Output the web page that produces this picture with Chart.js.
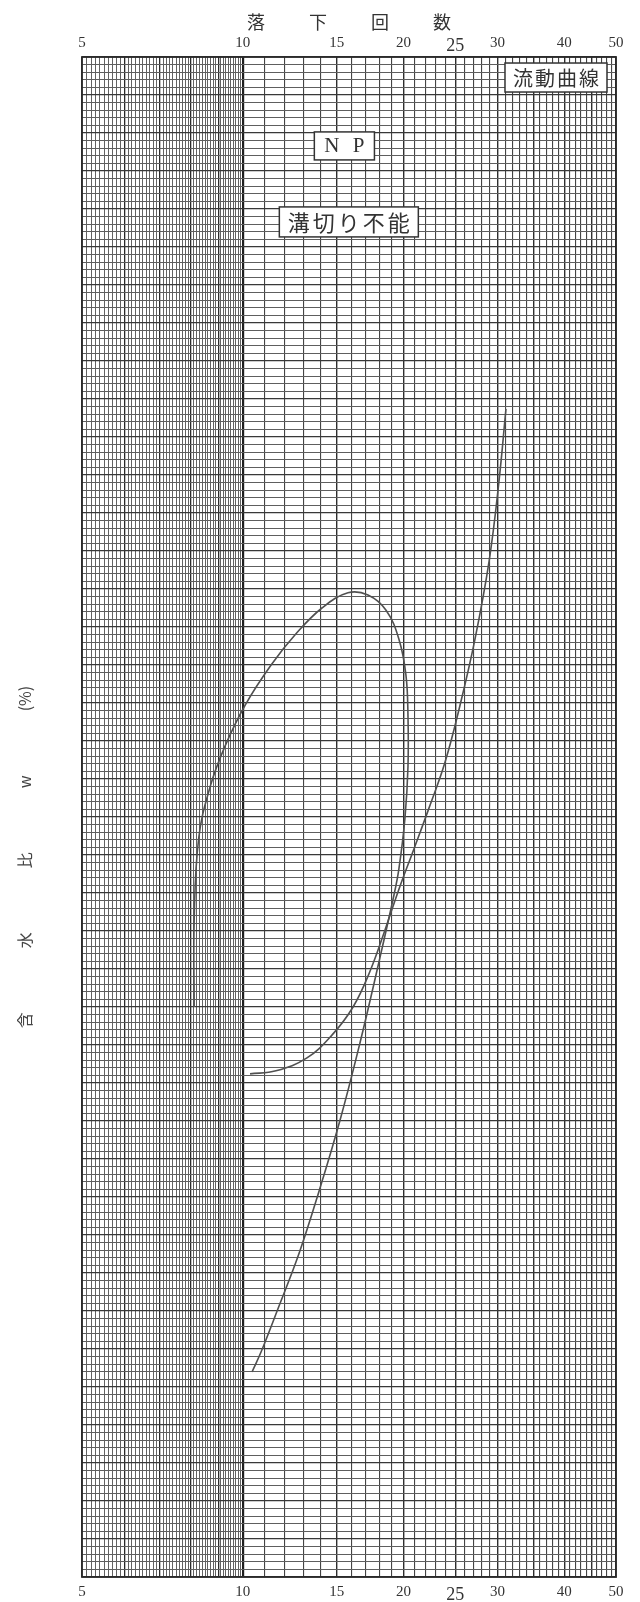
<!DOCTYPE html>
<html>
<head>
<meta charset="utf-8">
<script src="https://cdn.jsdelivr.net/npm/chart.js@4/dist/chart.umd.min.js"></script>
<style>
  html, body { margin: 0; padding: 0; background: #ffffff; }
  #wrap { width: 640px; height: 1602px; position: relative; }
</style>
</head>
<body>
<div id="wrap"><canvas id="c"></canvas></div>
<script>
// ---- data ----
const xTickLabels = [5, 10, 15, 20, 25, 30, 40, 50];
const xTitle = '落　　  下　　  回　　  数';
const yTitle = '含　　　　水　　　　比　　　　w　　　　(%)　　　　　';

// curve 1: loop + steep descending branch (drawn in this order)
const curve1X = [8.11, 8.11, 8.27, 8.68, 9.26, 10.10, 11.30, 12.58, 14.07, 15.74, 17.16, 18.55, 19.61, 20.21, 20.39, 20.39, 20.13, 19.61, 19.19, 17.92, 16.58, 15.21, 13.90, 12.75, 11.64, 10.82, 10.41];
const curve1Y = [75.0, 86.4, 97.2, 103.9, 109.3, 114.7, 120.0, 124.1, 127.5, 129.5, 129.2, 127.2, 123.4, 118.7, 113.3, 106.6, 99.9, 93.2, 89.7, 80.4, 70.3, 60.1, 50.8, 42.6, 35.3, 29.6, 27.0];

// curve 2: rising flow curve
const curve2X = [10.32, 11.54, 13.19, 14.69, 16.09, 17.31, 18.46, 19.61, 20.92, 22.33, 23.92, 25.52, 27.22, 28.92, 30.19, 31.11];
const curve2Y = [66.2, 66.6, 68.3, 71.3, 75.0, 79.7, 85.1, 90.5, 95.8, 101.2, 107.2, 114.7, 123.4, 133.6, 144.2, 153.7];

// boxed notes (text, and anchor in data units)
const noteTexts = ['流動曲線', 'N P', '溝切り不能'];
const noteX = [38.6, 15.5, 15.8];
const noteY = [197.3, 188.3, 178.3];

// ---- grid helpers ----
function xGridValues() {
  const v = [];
  for (let i = 50; i < 100; i++) v.push(i / 10);
  for (let i = 10; i <= 50; i++) v.push(i);
  return v;
}
function yGridValues() {
  const v = [];
  for (let i = 0; i <= 200; i++) v.push(i);
  return v;
}
const toPts = (xs, ys) => xs.map((x, i) => ({ x: x, y: ys[i] }));

const notesPlugin = {
  id: 'notes',
  afterDraw(chart) {
    const ctx = chart.ctx;
    const xs = chart.scales.x, ys = chart.scales.y;
    const styles = [
      { font: '20px "Noto Sans CJK JP"', spacing: 2, padX: 7, h: 29 },
      { font: '21px "Liberation Serif"', spacing: 4, padX: 8, h: 28 },
      { font: '22px "Noto Sans CJK JP"', spacing: 3, padX: 7, h: 30 }
    ];
    noteTexts.forEach((t, i) => {
      const cx = xs.getPixelForValue(noteX[i]);
      const cy = ys.getPixelForValue(noteY[i]);
      const st = styles[i];
      ctx.save();
      ctx.font = st.font;
      ctx.letterSpacing = st.spacing + 'px';
      const tw = ctx.measureText(t).width;
      const w = tw + st.padX * 2;
      ctx.fillStyle = '#ffffff';
      ctx.fillRect(cx - w / 2, cy - st.h / 2, w, st.h);
      ctx.strokeStyle = '#333333';
      ctx.lineWidth = 1.5;
      ctx.strokeRect(cx - w / 2, cy - st.h / 2, w, st.h);
      ctx.fillStyle = '#333333';
      ctx.textAlign = 'left';
      ctx.textBaseline = 'middle';
      ctx.fillText(t, cx - tw / 2 + st.spacing / 2, cy + 1);
      ctx.restore();
    });
    // frame
    const a = chart.chartArea;
    ctx.save();
    ctx.strokeStyle = '#2a2a2a';
    ctx.lineWidth = 1.8;
    ctx.strokeRect(a.left, a.top, a.right - a.left, a.bottom - a.top);
    ctx.restore();
  }
};

function isInt(v) { return Math.abs(v - Math.round(v)) < 1e-6; }
function xGridColor(ctx) {
  const v = ctx.tick ? ctx.tick.value : 0;
  if (v === 10) return '#1e1e1e';
  if (v < 10) return isInt(v) ? '#2a2a2a' : '#5a5a5a';
  if (v % 5 === 0) return '#2e2e2e';
  return '#444444';
}
function xGridWidth(ctx) {
  const v = ctx.tick ? ctx.tick.value : 0;
  if (v === 10) return 2.2;
  if (v < 10) return isInt(v) ? 1.3 : 0.95;
  if (v % 5 === 0) return 1.4;
  return 1.1;
}
function yGridColor(ctx) {
  const v = ctx.tick ? ctx.tick.value : 0;
  return v % 5 === 0 ? '#383838' : '#5e5e5e';
}
function yGridWidth(ctx) {
  const v = ctx.tick ? ctx.tick.value : 0;
  return v % 5 === 0 ? 1.2 : 1;
}
const labelCb = (value) => (xTickLabels.includes(Math.round(value * 10) / 10) ? String(Math.round(value)) : '');
const tickFontBottom = (ctx) => (ctx.tick && ctx.tick.value === 25)
  ? { family: '"Liberation Serif"', size: 18, lineHeight: 1.35 }
  : { family: '"Liberation Serif"', size: 15, lineHeight: 1.2 };
const tickFontTop = (ctx) => (ctx.tick && ctx.tick.value === 25)
  ? { family: '"Liberation Serif"', size: 18, lineHeight: 0.6 }
  : { family: '"Liberation Serif"', size: 15, lineHeight: 1.2 };

new Chart(document.getElementById('c'), {
  type: 'scatter',
  data: {
    datasets: [
      { data: toPts(curve1X, curve1Y), showLine: true, borderColor: '#505050', borderWidth: 1.6, pointRadius: 0, tension: 0.4, xAxisID: 'x', yAxisID: 'y' },
      { data: toPts(curve2X, curve2Y), showLine: true, borderColor: '#505050', borderWidth: 1.6, pointRadius: 0, tension: 0.4, xAxisID: 'x', yAxisID: 'y' }
    ]
  },
  plugins: [notesPlugin],
  options: {
    responsive: true,
    maintainAspectRatio: false,
    animation: false,
    layout: { padding: { left: 0, right: 24, top: 0, bottom: 0 } },
    plugins: { legend: { display: false }, tooltip: { enabled: false } },
    scales: {
      x: {
        type: 'logarithmic', position: 'bottom', min: 5, max: 50,
        afterBuildTicks: (s) => { s.ticks = xGridValues().map(v => ({ value: v })); },
        afterFit: (s) => { s.height = 25; },
        grid: { color: xGridColor, lineWidth: xGridWidth, drawTicks: false },
        border: { display: false },
        ticks: { autoSkip: false, maxRotation: 0, minRotation: 0, padding: 6, color: '#333333', font: tickFontBottom, callback: labelCb }
      },
      xTop: {
        type: 'logarithmic', position: 'top', min: 5, max: 50,
        afterBuildTicks: (s) => { s.ticks = xGridValues().map(v => ({ value: v })); },
        afterFit: (s) => { s.height = 57; },
        grid: { display: false, drawTicks: false },
        border: { display: false },
        ticks: { autoSkip: false, maxRotation: 0, minRotation: 0, padding: 5, color: '#333333', font: tickFontTop, callback: labelCb },
        title: { display: true, text: xTitle, color: '#333333', font: { family: '"Noto Sans CJK JP"', size: 18 }, padding: { top: 11, bottom: 0 } }
      },
      y: {
        type: 'linear', position: 'left', min: 0, max: 200,
        afterBuildTicks: (s) => { s.ticks = yGridValues().map(v => ({ value: v })); },
        afterFit: (s) => { s.width = 82; },
        grid: { color: yGridColor, lineWidth: yGridWidth, drawTicks: false },
        border: { display: false },
        ticks: { display: false, autoSkip: false },
        title: { display: true, text: yTitle, color: '#444444', font: { family: '"Noto Sans CJK JP"', size: 16 }, padding: { top: 15, bottom: 0 } }
      }
    }
  }
});
</script>
</body>
</html>
